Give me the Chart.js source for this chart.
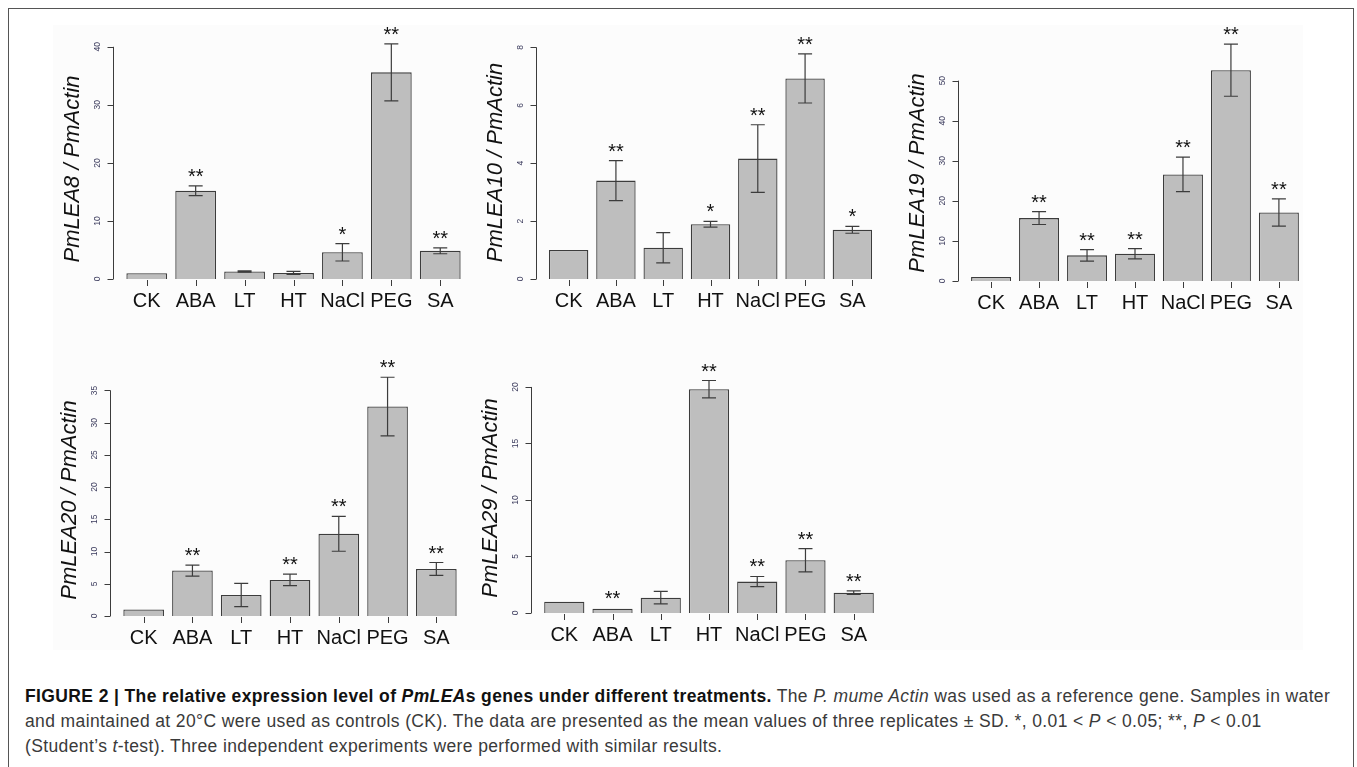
<!DOCTYPE html>
<html lang="en">
<head>
<meta charset="UTF-8">
<title>PmLEA expression under treatments</title>
<script src="https://cdn.jsdelivr.net/npm/chart.js@4.4.0/dist/chart.umd.min.js"></script>
<style>
    * { margin: 0; padding: 0; box-sizing: border-box; }
    body {
        width: 1357px; height: 767px; overflow: hidden; position: relative;
        background: #fff; font-family: 'Liberation Sans', Arial, sans-serif;
    }
    .frame {
        position: absolute; left: 8px; top: 8px; width: 1346px; height: 790px;
        border: 1.5px solid #555;
    }
    .figure-bg {
        position: absolute; left: 53px; top: 25px; width: 1250px; height: 625px;
        background: #fcfcfc;
    }
    canvas { position: absolute; }
    .caption {
        position: absolute; left: 25px; top: 684px;
        font-size: 17.5px; letter-spacing: 0.38px; line-height: 25px;
        color: #3a3a3a; white-space: nowrap;
    }
    .caption b { color: #111; }
</style>
</head>
<body>
<div class="frame"></div>
<div class="figure-bg"></div>
<div id="panels"></div>
<div class="caption">
    <b>FIGURE 2 | The relative expression level of <i>PmLEA</i>s genes under different treatments.</b> The <i>P. mume Actin</i> was used as a reference gene. Samples in water<br>
    and maintained at 20°C were used as controls (CK). The data are presented as the mean values of three replicates ± SD. *, 0.01 &lt; <i>P</i> &lt; 0.05; **, <i>P</i> &lt; 0.01<br>
    (Student’s <i>t</i>-test). Three independent experiments were performed with similar results.
</div>

<script>
    // treatments (same for every panel)
    const categories = ['CK', 'ABA', 'LT', 'HT', 'NaCl', 'PEG', 'SA'];

    // PmLEA8
    const lea8Mean = [1.0, 15.2, 1.3, 1.05, 4.6, 35.6, 4.85];
    const lea8Sd = [0, 0.85, 0.1, 0.25, 1.5, 4.9, 0.5];
    const lea8Sig = ['', '**', '', '', '*', '**', '**'];
    const lea8Ticks = [0, 10, 20, 30, 40];

    // PmLEA10
    const lea10Mean = [1.0, 3.4, 1.08, 1.89, 4.16, 6.93, 1.7];
    const lea10Sd = [0, 0.69, 0.52, 0.1, 1.17, 0.85, 0.12];
    const lea10Sig = ['', '**', '', '*', '**', '**', '*'];
    const lea10Ticks = [0, 2, 4, 6, 8];

    // PmLEA19
    const lea19Mean = [1.0, 15.7, 6.4, 6.8, 26.6, 52.6, 17.1];
    const lea19Sd = [0, 1.6, 1.45, 1.3, 4.3, 6.5, 3.4];
    const lea19Sig = ['', '**', '**', '**', '**', '**', '**'];
    const lea19Ticks = [0, 10, 20, 30, 40, 50];

    // PmLEA20
    const lea20Mean = [1.0, 7.05, 3.27, 5.6, 12.75, 32.5, 7.3];
    const lea20Sd = [0, 0.85, 1.8, 0.9, 2.7, 4.55, 1.0];
    const lea20Sig = ['', '**', '', '**', '**', '**', '**'];
    const lea20Ticks = [0, 5, 10, 15, 20, 25, 30, 35];

    // PmLEA29
    const lea29Mean = [1.0, 0.38, 1.36, 19.8, 2.78, 4.67, 1.8];
    const lea29Sd = [0, 0.03, 0.55, 0.77, 0.45, 1.03, 0.15];
    const lea29Sig = ['', '**', '', '**', '**', '**', '**'];
    const lea29Ticks = [0, 5, 10, 15, 20];

    // panel placement on the page (axis x, plot right, plot top, zero line) and y range
    const panels = [
        { gene: 'PmLEA8',  mean: lea8Mean,  sd: lea8Sd,  sig: lea8Sig,  ticks: lea8Ticks,  left: 113, right: 474, top: 59,  bottom: 279, yMax: 37.9 },
        { gene: 'PmLEA10', mean: lea10Mean, sd: lea10Sd, sig: lea10Sig, ticks: lea10Ticks, left: 536, right: 885, top: 46,  bottom: 279, yMax: 8.05 },
        { gene: 'PmLEA19', mean: lea19Mean, sd: lea19Sd, sig: lea19Sig, ticks: lea19Ticks, left: 958, right: 1312, top: 65, bottom: 281, yMax: 53.9 },
        { gene: 'PmLEA20', mean: lea20Mean, sd: lea20Sd, sig: lea20Sig, ticks: lea20Ticks, left: 110, right: 470, top: 384, bottom: 616, yMax: 36.0 },
        { gene: 'PmLEA29', mean: lea29Mean, sd: lea29Sd, sig: lea29Sig, ticks: lea29Ticks, left: 531, right: 887, top: 383, bottom: 613, yMax: 20.35 }
    ];

    const PAD_LEFT = 100, PAD_TOP = 60, PAD_RIGHT = 10, X_AXIS_H = 45;
    const INK = '#3c3c3c';

    // error bars, significance stars, R-style axes and title
    const decorations = {
        id: 'decorations',
        afterDatasetsDraw(chart, args, opts) {
            const p = opts.panel;
            const { ctx, chartArea } = chart;
            const xs = chart.scales.x, ys = chart.scales.y;
            ctx.save();

            ctx.strokeStyle = INK;
            ctx.lineWidth = 1.2;
            ctx.fillStyle = '#111';
            ctx.font = '20px "Liberation Sans", Arial, sans-serif';
            ctx.textAlign = 'center';
            ctx.textBaseline = 'alphabetic';
            p.mean.forEach((m, i) => {
                const x = xs.getPixelForValue(i);
                const hi = ys.getPixelForValue(m + p.sd[i]);
                const lo = ys.getPixelForValue(m - p.sd[i]);
                if (p.sd[i] > 0.05) {
                    ctx.beginPath();
                    ctx.moveTo(x, hi); ctx.lineTo(x, lo);
                    ctx.moveTo(x - 7, hi); ctx.lineTo(x + 7, hi);
                    ctx.moveTo(x - 7, lo); ctx.lineTo(x + 7, lo);
                    ctx.stroke();
                }
                if (p.sig[i]) {
                    const topY = Math.min(hi, ys.getPixelForValue(m));
                    ctx.fillText(p.sig[i], x, topY - 3);
                }
            });

            // x tick marks under each bar
            ctx.lineWidth = 1;
            ctx.beginPath();
            categories.forEach((c, i) => {
                const tx = Math.round(xs.getPixelForValue(i)) + 0.5;
                ctx.moveTo(tx, chartArea.bottom + 1);
                ctx.lineTo(tx, chartArea.bottom + 7);
            });
            ctx.stroke();

            // y axis spanning first..last tick
            const ax = Math.round(chartArea.left) + 0.5;
            const yA = ys.getPixelForValue(p.ticks[0]);
            const yB = ys.getPixelForValue(p.ticks[p.ticks.length - 1]);
            ctx.beginPath();
            ctx.moveTo(ax, yA); ctx.lineTo(ax, yB);
            p.ticks.forEach(t => {
                const ty = Math.round(ys.getPixelForValue(t)) + 0.5;
                ctx.moveTo(ax, ty); ctx.lineTo(ax - 6, ty);
            });
            ctx.stroke();

            ctx.fillStyle = '#3a3a5c';
            ctx.font = '8.5px "Liberation Sans", Arial, sans-serif';
            ctx.textBaseline = 'middle';
            p.ticks.forEach(t => {
                ctx.save();
                ctx.translate(ax - 16, ys.getPixelForValue(t));
                ctx.rotate(-Math.PI / 2);
                ctx.fillText(String(t), 0, 0);
                ctx.restore();
            });

            ctx.fillStyle = '#111';
            ctx.font = 'italic 22px "Liberation Sans", Arial, sans-serif';
            ctx.save();
            ctx.translate(ax - 41, (chartArea.top + chartArea.bottom) / 2);
            ctx.rotate(-Math.PI / 2);
            ctx.fillText(p.gene + ' / PmActin', 0, 0);
            ctx.restore();

            ctx.restore();
        }
    };

    const holder = document.getElementById('panels');

    panels.forEach(p => {
        const canvas = document.createElement('canvas');
        const w = (p.right - p.left) + PAD_LEFT + PAD_RIGHT;
        const h = (p.bottom - p.top) + PAD_TOP + X_AXIS_H;
        canvas.width = w;
        canvas.height = h;
        canvas.style.left = (p.left - PAD_LEFT) + 'px';
        canvas.style.top = (p.top - PAD_TOP) + 'px';
        canvas.style.width = w + 'px';
        canvas.style.height = h + 'px';
        holder.appendChild(canvas);

        new Chart(canvas.getContext('2d'), {
            type: 'bar',
            data: {
                datasets: [{
                    data: p.mean.map((v, i) => ({ x: i, y: v })),
                    backgroundColor: '#bebebe',
                    borderColor: INK,
                    borderWidth: 1.3,
                    barPercentage: 1 / 1.2,
                    categoryPercentage: 1
                }]
            },
            options: {
                responsive: false,
                animation: false,
                devicePixelRatio: 1,
                layout: { padding: { left: PAD_LEFT, top: PAD_TOP, right: PAD_RIGHT, bottom: 0 } },
                plugins: {
                    legend: { display: false },
                    tooltip: { enabled: false },
                    decorations: { panel: p }
                },
                scales: {
                    x: {
                        type: 'linear',
                        offset: false,
                        min: -0.69,
                        max: categories.length - 1 + 0.69,
                        afterBuildTicks: s => { s.ticks = categories.map((c, i) => ({ value: i })); },
                        afterFit: s => { s.height = X_AXIS_H; s.paddingLeft = 0; s.paddingRight = 0; },
                        border: { display: false },
                        grid: { offset: false, drawOnChartArea: false, drawTicks: true, tickLength: 6, color: 'rgba(0,0,0,0)' },
                        ticks: {
                            autoSkip: false,
                            maxRotation: 0,
                            padding: 4,
                            color: '#111',
                            font: { family: '"Liberation Sans", Arial, sans-serif', size: 20 },
                            callback: v => categories[v]
                        }
                    },
                    y: {
                        display: false,
                        min: 0,
                        max: p.yMax
                    }
                }
            },
            plugins: [decorations]
        });
    });
</script>
</body>
</html>
